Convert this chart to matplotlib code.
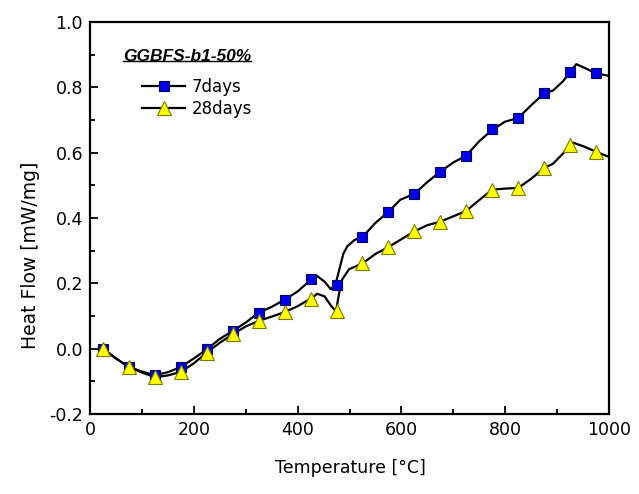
import numpy as np
from matplotlib import pyplot as plt
from matplotlib.lines import Line2D

# температура на маркерах (шаг 50)
t_marks = [25, 75, 125, 175, 225, 275, 325, 375, 425, 475,
           525, 575, 625, 675, 725, 775, 825, 875, 925, 975]
s7_marks = [0.0, -0.056, -0.081, -0.056, -0.002, 0.054, 0.110, 0.150, 0.212, 0.196,
            0.342, 0.419, 0.474, 0.542, 0.591, 0.671, 0.706, 0.782, 0.846, 0.843]
s28_marks = [0.0, -0.056, -0.087, -0.071, -0.012, 0.044, 0.085, 0.112, 0.153, 0.115,
             0.261, 0.311, 0.359, 0.389, 0.422, 0.487, 0.492, 0.553, 0.622, 0.603]

# кривые
t7_line = [22, 25, 50, 75, 100, 125, 150, 175, 200, 225, 250, 275, 300, 325, 350,
           375, 400, 425, 438, 452, 464, 473, 480, 488, 496, 510, 525, 550, 575, 598,
           625, 650, 675, 700, 725, 750, 775, 800, 825, 850, 875, 892, 911, 925,
           937, 955, 975, 1000]
s7_line = [0.002, 0.0, -0.030, -0.056, -0.070, -0.081, -0.072, -0.056, -0.030, -0.002,
           0.030, 0.054, 0.080, 0.110, 0.128, 0.150, 0.175, 0.210, 0.222, 0.205,
           0.182, 0.196, 0.240, 0.290, 0.314, 0.333, 0.342, 0.385, 0.419, 0.456, 0.474,
           0.510, 0.542, 0.570, 0.591, 0.635, 0.670, 0.695, 0.706, 0.745, 0.782,
           0.790, 0.818, 0.846, 0.871, 0.858, 0.843, 0.835]

t28_line = [22, 25, 50, 75, 100, 125, 150, 175, 200, 225, 250, 275, 300, 325, 350,
            375, 400, 425, 438, 452, 465, 474, 480, 486, 499, 525, 550, 575, 600, 625,
            650, 675, 700, 725, 750, 775, 800, 825, 850, 875, 892, 910, 925, 930,
            950, 975, 1000]
s28_line = [0.002, 0.0, -0.030, -0.056, -0.073, -0.087, -0.082, -0.071, -0.045, -0.012,
            0.018, 0.044, 0.068, 0.085, 0.098, 0.112, 0.130, 0.153, 0.168, 0.160,
            0.130, 0.115, 0.170, 0.212, 0.243, 0.261, 0.290, 0.311, 0.335, 0.359, 0.378,
            0.389, 0.405, 0.422, 0.455, 0.487, 0.490, 0.492, 0.520, 0.553, 0.566,
            0.595, 0.622, 0.631, 0.620, 0.603, 0.587]

labels = ["7days", "28days"]
title = "GGBFS-b1-50%"

plt.rcParams['font.family'] = ['DejaVu Sans']

fig = plt.figure(figsize=(6.39, 4.94), dpi=100)
ax = fig.add_axes([90 / 639, 1 - 414 / 494, 519 / 639, 392 / 494])

blue = '#0000e6'
yellow = '#ffff00'

ax.plot(t7_line, s7_line, color='black', lw=1.6, zorder=2)
ax.plot(t28_line, s28_line, color='black', lw=1.6, zorder=2)
ax.plot(t_marks, s7_marks, ls='none', marker='s', ms=7, mfc=blue,
        mec='#000060', mew=0.8, zorder=3)
ax.plot(t_marks, s28_marks, ls='none', marker='^', ms=9.5, mfc=yellow,
        mec='#7a7a00', mew=0.8, zorder=3)

ax.set_xlim(0, 1000)
ax.set_ylim(-0.2, 1.0)
ax.set_xticks(np.arange(0, 1001, 200))
ax.set_xticks(np.arange(100, 1000, 200), minor=True)
ax.set_yticks(np.arange(-0.2, 1.01, 0.2))
ax.set_yticks(np.arange(-0.1, 1.0, 0.2), minor=True)
ax.yaxis.set_major_formatter(plt.FormatStrFormatter('%.1f'))
ax.tick_params(which='both', direction='in', width=1.3, labelsize=12.5, pad=5)
ax.tick_params(which='major', length=6)
ax.tick_params(which='minor', length=3.5)
for sp in ax.spines.values():
    sp.set_linewidth(1.6)

ax.set_xlabel("Temperature [°C]", fontsize=12.5)
ax.set_ylabel("Heat Flow [mW/mg]", fontsize=13.5)
ax.xaxis.set_label_coords(0.502, -0.115)
ax.yaxis.set_label_coords(-0.114, 0.405)
ax.yaxis.label.set_va('center')

# заголовок легенды
ttl = ax.text(0.064, 0.901, title, transform=ax.transAxes, fontsize=12.5,
              family='Liberation Sans', style='italic', weight='bold', va='baseline')

handles = [
    Line2D([], [], color='black', lw=1.6, marker='s', ms=7, mfc=blue, mec='#000060', mew=0.8),
    Line2D([], [], color='black', lw=1.6, marker='^', ms=9.5, mfc=yellow, mec='#7a7a00', mew=0.8),
]
ax.legend(handles, labels, loc='upper left', bbox_to_anchor=(0.1, 0.857),
          frameon=False, fontsize=12, handlelength=2.6, handletextpad=0.4,
          labelspacing=0.25, borderpad=0, borderaxespad=0)

fig.canvas.draw()
bb = ttl.get_window_extent().transformed(ax.transAxes.inverted())
ax.plot([bb.x0, bb.x1], [0.901, 0.901], color='black', lw=1.0,
        transform=ax.transAxes, clip_on=False)

fig.savefig('out.png', dpi=100)
